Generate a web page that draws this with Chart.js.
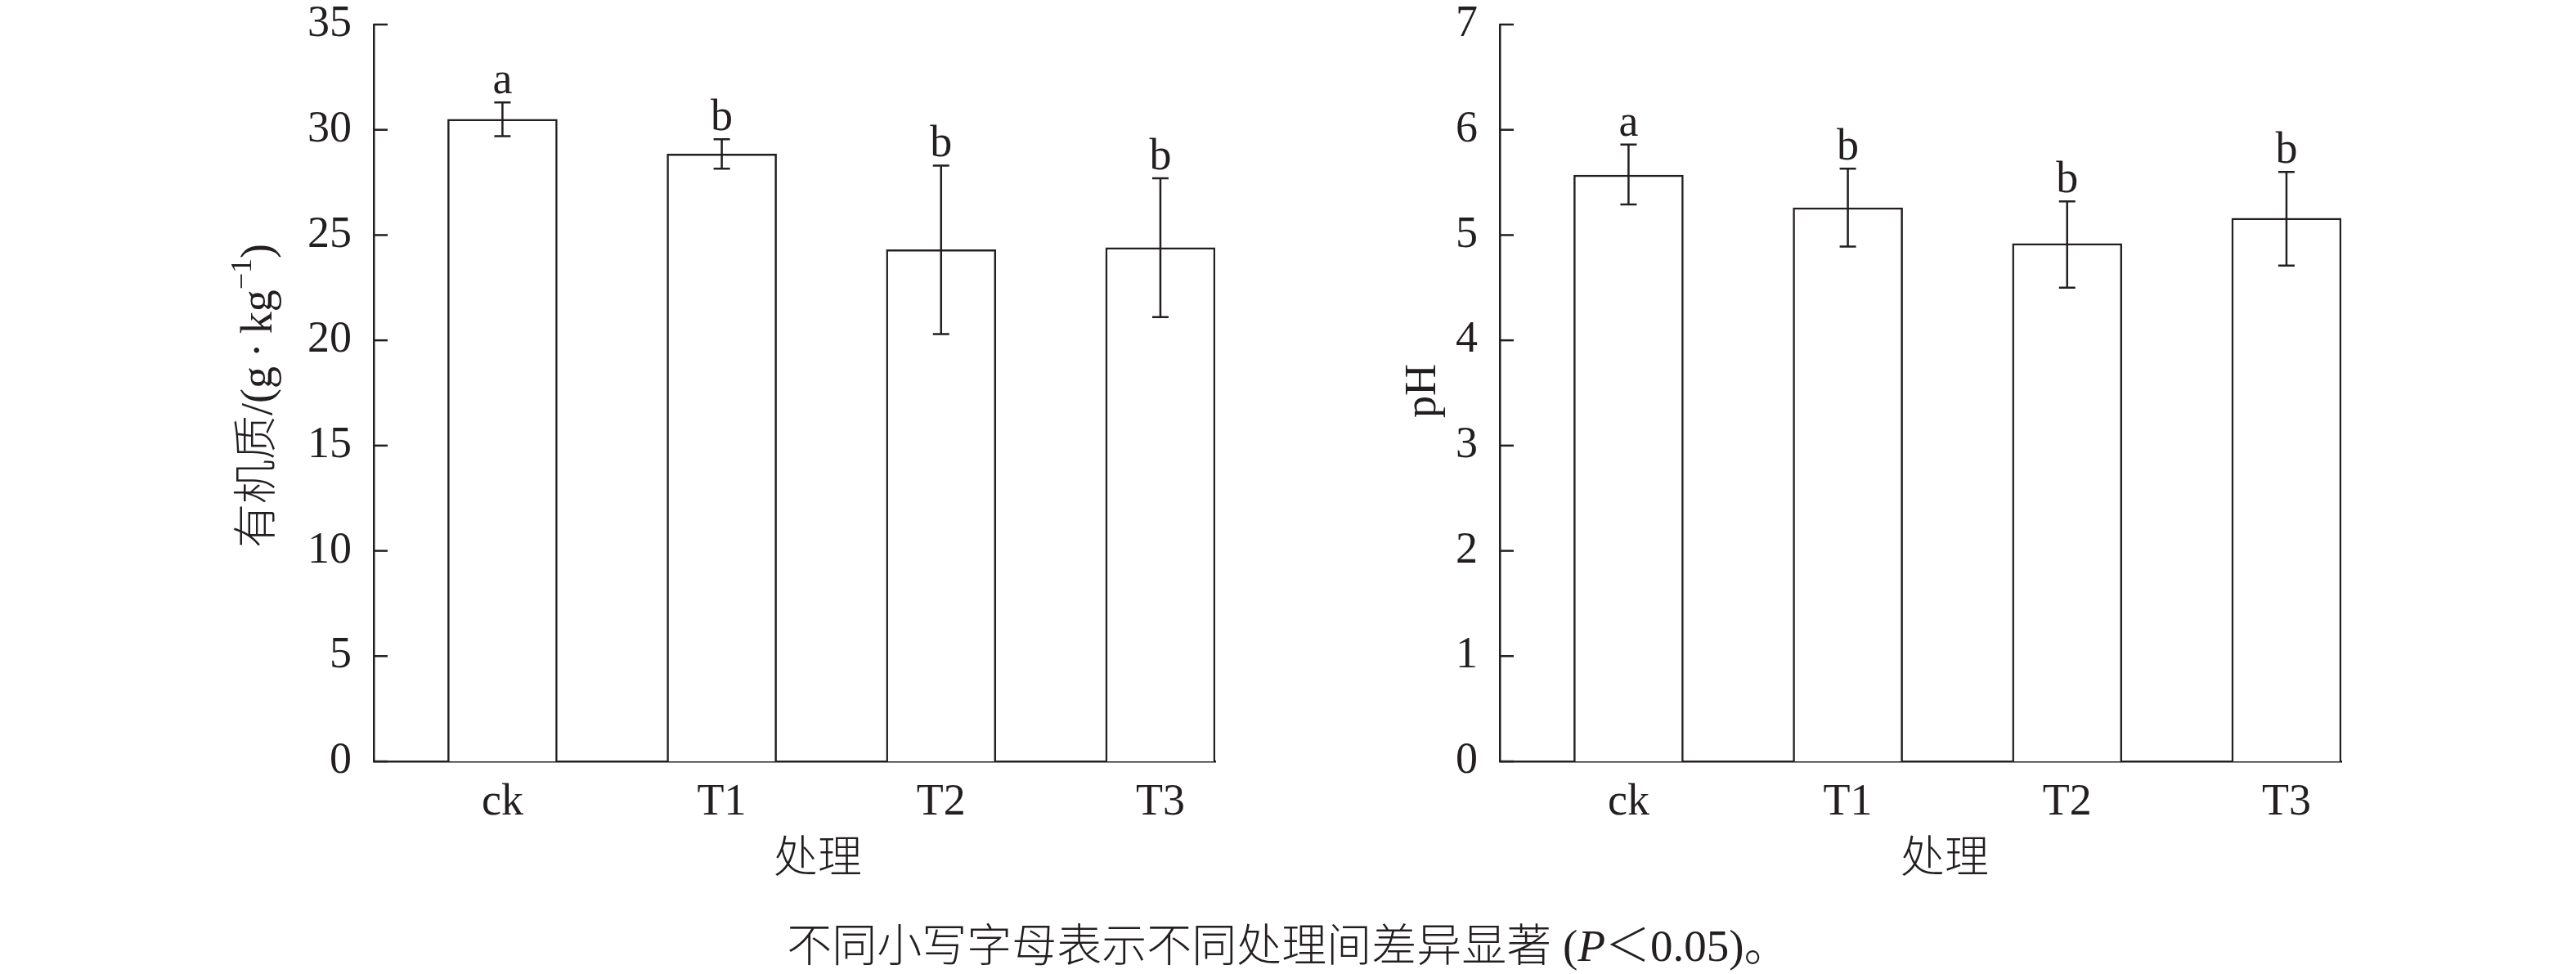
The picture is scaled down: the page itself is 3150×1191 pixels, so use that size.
<!DOCTYPE html>
<html>
<head>
<meta charset="utf-8">
<script src="https://cdn.jsdelivr.net/npm/chart.js@4.4.1/dist/chart.umd.min.js"></script>
<style>
  body { margin: 0; background: #fff; width: 3150px; height: 1191px; position: relative; overflow: hidden; }
  .box { position: absolute; top: 0; width: 1575px; height: 1100px; }
  #caption {
    position: absolute; left: 0; width: 3150px; top: 1125px; text-align: center;
    font: 300 55px 'Liberation Serif', 'Noto Sans CJK SC', serif; line-height: 64px; color: #231f20;
  }
</style>
</head>
<body>
<div class="box" style="left:0"><canvas id="somChart" width="1575" height="1100"></canvas></div>
<div class="box" style="left:1575px"><canvas id="phChart" width="1575" height="1100"></canvas></div>
<div id="caption">不同小写字母表示不同处理间差异显著 (<i>P</i>＜0.05)。</div>
<script>
// data
const categories = ["ck", "T1", "T2", "T3"];

const somValues = [30.5, 28.85, 24.3, 24.4];
const somErrHigh = [31.3, 29.55, 28.3, 27.7];
const somErrLow = [29.7, 28.15, 20.3, 21.1];
const somLetters = ["a", "b", "b", "b"];
const somTicks = [0, 5, 10, 15, 20, 25, 30, 35];

const phValues = [5.57, 5.26, 4.92, 5.16];
const phErrHigh = [5.86, 5.63, 5.32, 5.60];
const phErrLow = [5.29, 4.89, 4.50, 4.71];
const phLetters = ["a", "b", "b", "b"];
const phTicks = [0, 1, 2, 3, 4, 5, 6, 7];

const INK = "#231f20";
const SERIF = "'Liberation Serif', 'Noto Sans CJK SC', serif";

// error bars, letters, inward ticks and axis titles
const extras = {
  id: "extras",
  afterDatasetsDraw(chart, args, o) {
    const ctx = chart.ctx;
    const xs = chart.scales.x, ys = chart.scales.y;
    const area = chart.chartArea;
    ctx.save();
    ctx.strokeStyle = INK;
    ctx.fillStyle = INK;
    ctx.lineWidth = 2.5;

    // error bars
    o.high.forEach((hi, i) => {
      const x = xs.getPixelForValue(i);
      const yHi = ys.getPixelForValue(hi);
      const yLo = ys.getPixelForValue(o.low[i]);
      ctx.beginPath();
      ctx.moveTo(x, yHi); ctx.lineTo(x, yLo);
      ctx.moveTo(x - 10, yHi); ctx.lineTo(x + 10, yHi);
      ctx.moveTo(x - 10, yLo); ctx.lineTo(x + 10, yLo);
      ctx.stroke();
      ctx.font = "54px " + SERIF;
      ctx.textAlign = "center";
      ctx.textBaseline = "alphabetic";
      ctx.fillText(o.letters[i], x, yHi - 11);
    });

    // inward ticks on y axis
    ys.ticks.forEach(t => {
      const y = ys.getPixelForValue(t.value);
      ctx.beginPath();
      ctx.moveTo(area.left, y); ctx.lineTo(area.left + 17, y);
      ctx.stroke();
    });

    // x title
    ctx.font = "300 54px " + SERIF;
    ctx.textAlign = "center";
    ctx.textBaseline = "middle";
    ctx.fillText(o.xTitle, o.xTitleX, 1053);

    // y title, rotated, with optional superscript
    ctx.translate(o.yTitleX, o.yTitleY);
    ctx.rotate(-Math.PI / 2);
    const bigFont = "300 54px " + SERIF, supFont = "36px " + SERIF;
    ctx.font = bigFont;
    const w1 = ctx.measureText(o.yTitle[0]).width;
    ctx.font = supFont;
    const w2 = o.yTitle[1] ? ctx.measureText(o.yTitle[1]).width : 0;
    ctx.font = bigFont;
    const w3 = o.yTitle[2] ? ctx.measureText(o.yTitle[2]).width : 0;
    let x = -(w1 + w2 + w3) / 2;
    ctx.textAlign = "left";
    ctx.fillText(o.yTitle[0], x, 0);
    x += w1;
    if (o.yTitle[1]) {
      ctx.font = supFont;
      ctx.fillText(o.yTitle[1], x, -20);
      x += w2;
      ctx.font = bigFont;
      ctx.fillText(o.yTitle[2], x, 0);
    }
    ctx.restore();
  }
};

function makeChart(id, values, high, low, letters, ticks, yMax, axisWidth, padRight, titles) {
  return new Chart(document.getElementById(id), {
    type: "bar",
    data: {
      datasets: [{
        data: values.map((v, i) => ({ x: i, y: v })),
        backgroundColor: "#ffffff",
        borderColor: INK,
        borderWidth: 2.5,
        barThickness: 134,
      }],
    },
    options: {
      responsive: false,
      animation: false,
      layout: { padding: { top: 30, left: 0, right: padRight, bottom: 0 } },
      plugins: {
        legend: { display: false },
        tooltip: { enabled: false },
        extras: Object.assign({ high, low, letters }, titles),
      },
      scales: {
        x: {
          type: "linear",
          offset: false,
          min: -0.587,
          max: 3.25,
          afterBuildTicks: s => { s.ticks = categories.map((c, i) => ({ value: i })); },
          afterFit: s => { s.height = 169; s.paddingLeft = 0; s.paddingRight = 0; },
          ticks: {
            callback: v => categories[v],
            font: { family: SERIF, size: 54 },
            color: INK,
            padding: 18,
            autoSkip: false,
            maxRotation: 0,
          },
          grid: { display: false, drawTicks: false },
          border: { display: true, color: INK, width: 2.5 },
        },
        y: {
          min: 0,
          max: yMax,
          afterBuildTicks: s => { s.ticks = ticks.map(v => ({ value: v })); },
          afterFit: s => { s.width = axisWidth; s.paddingTop = 0; s.paddingBottom = 0; },
          ticks: {
            font: { family: SERIF, size: 54 },
            color: INK,
            padding: 27,
          },
          grid: { display: false, drawTicks: false },
          border: { display: true, color: INK, width: 2.5 },
        },
      },
    },
    plugins: [extras],
  });
}

makeChart("somChart", somValues, somErrHigh, somErrLow, somLetters, somTicks, 35, 457, 89, {
  xTitle: "处理", xTitleX: 1000,
  yTitle: ["有机质/(g\u2009·\u2009kg", "\u22121", ")"], yTitleX: 318, yTitleY: 484,
});

makeChart("phChart", phValues, phErrHigh, phErrLow, phLetters, phTicks, 7, 259, 287, {
  xTitle: "处理", xTitleX: 803,
  yTitle: ["pH"], yTitleX: 166, yTitleY: 478,
});
</script>
</body>
</html>
